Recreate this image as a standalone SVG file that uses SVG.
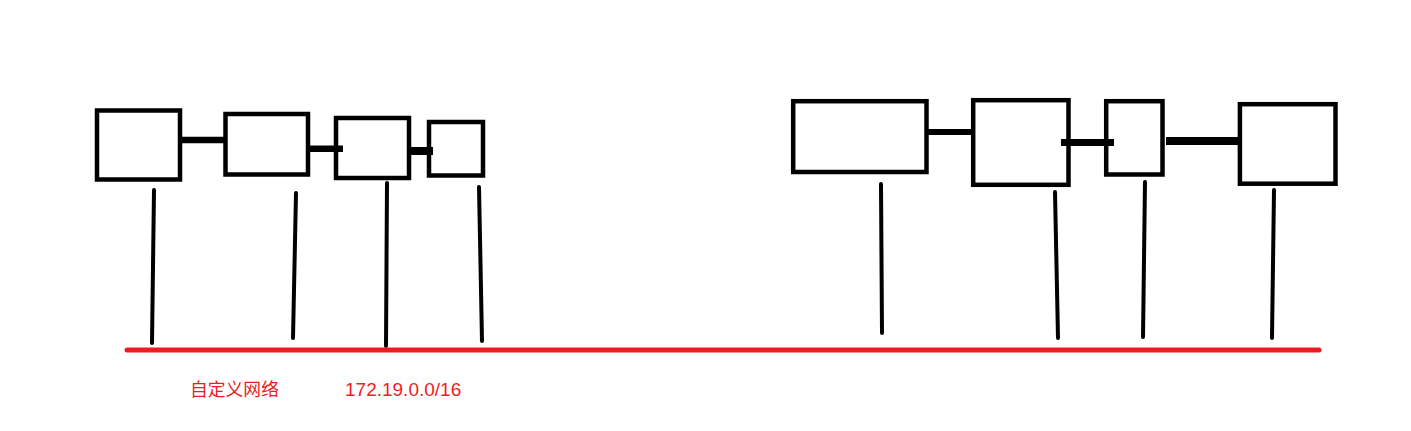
<svg xmlns="http://www.w3.org/2000/svg" width="1411" height="431" viewBox="0 0 1411 431">
<style>
.box{fill:none;stroke:#000;stroke-width:4.5}
.link{stroke:#000;fill:none}
.drop{stroke:#000;stroke-width:4;stroke-linecap:round;fill:none}
.net{stroke:#ed1c24;stroke-width:5;stroke-linecap:round}
.lbl{fill:#ed1c24;font-family:"Liberation Sans","Noto Sans CJK SC",sans-serif}
</style>
<rect width="1411" height="431" fill="#fff"/>
<g id="connectors">
<line class="link" x1="182" y1="140" x2="224" y2="140" stroke-width="6.5"/>
<line class="link" x1="310" y1="148.7" x2="343" y2="148.7" stroke-width="6.5"/>
<line class="link" x1="411" y1="151" x2="433" y2="151" stroke-width="8"/>
<line class="link" x1="928" y1="132" x2="971" y2="132" stroke-width="6"/>
<line class="link" x1="1061" y1="142.5" x2="1114" y2="142.5" stroke-width="7"/>
<line class="link" x1="1166" y1="141" x2="1238" y2="141" stroke-width="8"/>
<path class="drop" d="M154 190 L152 343"/>
<path class="drop" d="M296 193 L293 338"/>
<path class="drop" d="M387 183 L386 346"/>
<path class="drop" d="M479 187 L482 341"/>
<path class="drop" d="M881 184 L882 333"/>
<path class="drop" d="M1055 192 L1058 338"/>
<path class="drop" d="M1145 182 L1143 337"/>
<path class="drop" d="M1274 190 L1272 338"/>
</g>
<g id="node1"><rect class="box" x="97" y="110.5" width="83" height="69"/></g>
<g id="node2"><rect class="box" x="225.5" y="114" width="82.5" height="60.5"/></g>
<g id="node3"><rect class="box" x="336" y="118" width="73" height="60"/></g>
<g id="node4"><rect class="box" x="429" y="122" width="54" height="53.5"/></g>
<g id="node5"><rect class="box" x="793.2" y="101.2" width="133.3" height="70.8"/></g>
<g id="node6"><rect class="box" x="973.2" y="100.2" width="95.3" height="84.6"/></g>
<g id="node7"><rect class="box" x="1106.2" y="101.2" width="56.3" height="73.3"/></g>
<g id="node8"><rect class="box" x="1239.9" y="104.2" width="95.6" height="79.5"/></g>
<g id="network">
<line class="net" x1="127" y1="350" x2="1319" y2="350"/>
<text class="lbl" x="190" y="396" font-size="17.8">自定义网络</text>
<text class="lbl" x="345" y="396" font-size="19">172.19.0.0/16</text>
</g>
</svg>
